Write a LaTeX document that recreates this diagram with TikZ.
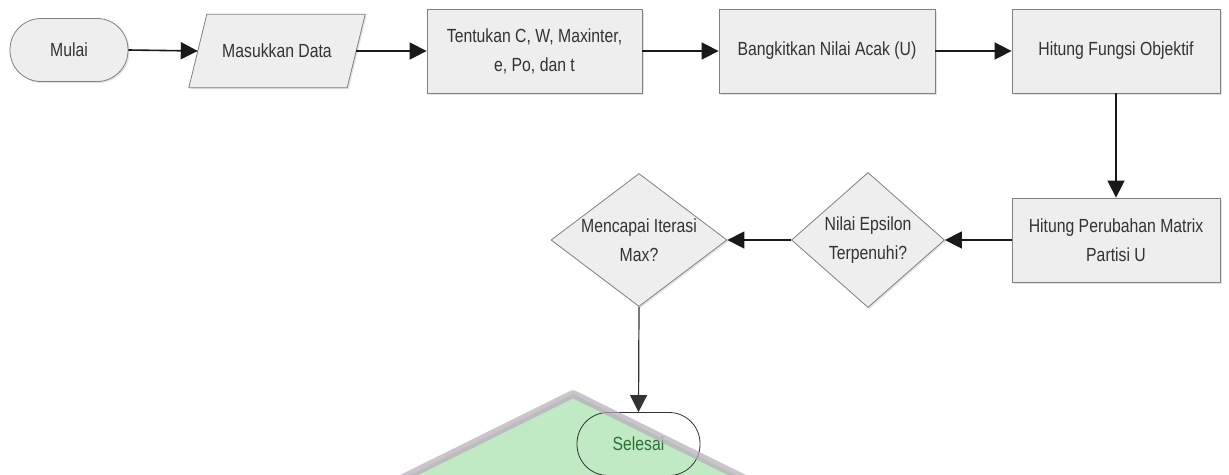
\documentclass[tikz,border=0pt]{standalone}
\usepackage{fontspec}
\setmainfont{Liberation Sans}[FakeStretch=0.83]
\usetikzlibrary{shapes.geometric,arrows.meta,shadows}
\definecolor{txt}{RGB}{50,50,55}
\definecolor{bfill}{RGB}{238,238,238}
\definecolor{bdraw}{RGB}{128,128,128}
\definecolor{lnc}{RGB}{25,25,25}
\definecolor{wmgreen}{RGB}{192,234,196}
\definecolor{wmband}{RGB}{182,172,184}
\definecolor{selgreen}{RGB}{45,112,55}
\begin{document}
\begin{tikzpicture}[x=1pt,y=-1pt,
  txtstyle/.style={text=txt, font=\fontsize{19}{29}\selectfont, align=center, inner sep=0pt},
  base/.style={txtstyle, draw=bdraw, fill=bfill, line width=0.8pt,
     drop shadow={shadow xshift=1.5pt, shadow yshift=-1.5pt, opacity=0.22}},
  procbox/.style={base, rectangle, minimum height=84pt},
  termbox/.style={base, rectangle, rounded corners=31pt, minimum height=63pt},
  diam/.style={base, diamond},
  conn/.style={draw=lnc, line width=1.6pt, -{Triangle[length=17pt,width=17pt]}}]
\useasboundingbox (0,0) rectangle (1229,474);
\clip (0,0) rectangle (1229,474);
\fill[white] (0,0) rectangle (1229,474);
% watermark fill (background)
\fill[wmgreen] (573,394) -- (400,480) -- (746,480) -- cycle;

% row 1
\node[termbox, minimum width=118pt] (mulai) at (69,50) {Mulai};
\node[txtstyle, minimum width=176pt, minimum height=73pt] (masuk) at (277,51) {};
\fill[bdraw, opacity=0.22] ([shift={(19.5,1.5)}]masuk.north west) -- ([shift={(1.5,1.5)}]masuk.north east)
   -- ([shift={(-16.5,1.5)}]masuk.south east) -- ([shift={(1.5,1.5)}]masuk.south west) -- cycle;
\filldraw[draw=bdraw, fill=bfill, line width=0.8pt] ([xshift=18pt]masuk.north west) -- (masuk.north east)
   -- ([xshift=-18pt]masuk.south east) -- (masuk.south west) -- cycle;
\node[txtstyle] (masukt) at (masuk) {Masukkan Data};
\node[procbox, minimum width=215pt] (tentu) at (534.5,51) {Tentukan C, W, Maxinter,\\e, Po, dan t};
\node[procbox, minimum width=216pt] (bangkit) at (827,51) {Bangkitkan Nilai Acak (U)};
\node[procbox, minimum width=208pt] (fungsi) at (1116,51) {Hitung Fungsi Objektif};

% row 2
\node[procbox, minimum width=208pt] (ubah) at (1116,240) {Hitung Perubahan Matrix\\Partisi U};
\node[diam, minimum width=153pt, minimum height=135pt] (nilai) at (868,240) {};
\node[txtstyle] (nilait) at (nilai) {Nilai Epsilon\\Terpenuhi?};
\node[diam, minimum width=176pt, minimum height=133pt] (capai) at (639,240) {};
\node[txtstyle] (capait) at (capai) {Mencapai Iterasi\\Max?};

% end
\node[txtstyle, draw=txt, line width=0.8pt, rectangle, rounded corners=31pt,
      minimum height=63pt, minimum width=123pt, text=selgreen] (selesai) at (638.5,444) {Selesai};

% connectors
\draw[conn] (mulai.east) -- ([xshift=9pt]masuk.west);
\draw[conn] ([xshift=-9pt]masuk.east) -- (tentu.west);
\draw[conn] (tentu.east) -- (bangkit.west);
\draw[conn] (bangkit.east) -- (fungsi.west);
\draw[conn] (fungsi.south) -- (ubah.north);
\draw[conn] (ubah.west) -- (nilai.east);
\draw[conn] (nilai.west) -- (capai.east);
\draw[conn, draw=txt, line width=1.2pt] (capai.south) -- (selesai.north);

% watermark band on top
\draw[wmband, line width=8pt, opacity=0.7, line join=round] (395,482) -- (573,394) -- (751,482);
\end{tikzpicture}
\end{document}
